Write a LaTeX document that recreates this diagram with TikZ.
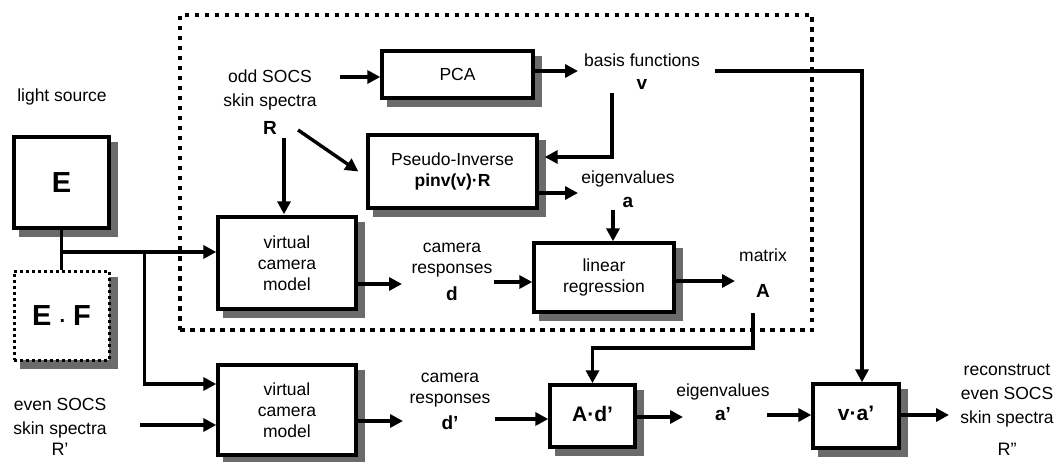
\documentclass[tikz,border=0pt]{standalone}
\usepackage{fontspec}
\setmainfont{Liberation Sans}
\usetikzlibrary{arrows.meta,calc,backgrounds}

\begin{document}
\begin{tikzpicture}[x=1pt,y=-1pt,
  font=\fontsize{17.5}{24}\selectfont,
  box/.style={draw, line width=3.4pt, fill=white, inner sep=0pt, align=center,
    font=\fontsize{17.5}{21}\selectfont},
  bigbox/.style={box, font=\fontsize{21}{24}\selectfont\bfseries},
  boxshadow/.style={fill=black!58},
  lbl/.style={align=center, inner sep=0pt},
  tightlbl/.style={lbl, font=\fontsize{17.5}{21}\selectfont},
  sym/.style={inner sep=0pt, font=\fontsize{19}{22}\selectfont\bfseries},
  plainsym/.style={inner sep=0pt, font=\fontsize{18}{22}\selectfont},
  arr/.style={line width=3.4pt, -{Triangle[length=13pt,width=13pt]}},
  wire/.style={line width=3.4pt},
  frame/.style={draw, line width=4.5pt, dash pattern=on 4.5pt off 5.5pt, inner sep=0pt},
]
\useasboundingbox (0,0) rectangle (1062,462);

% training block
\node[frame, minimum width=632pt, minimum height=315pt] (frame) at (496,172.5) {};

% light sources
\node[lbl] (light) at (62,97) {light source};
\node[box, minimum width=95pt, minimum height=91pt, font=\fontsize{29}{30}\selectfont\bfseries] (E) at (61.5,182.5) {E};
\node[box, minimum width=95pt, minimum height=89pt, line width=3pt, dash pattern=on 3pt off 3pt,
      font=\fontsize{29}{30}\selectfont\bfseries] (EF) at (61.5,315.5) {E \raisebox{3pt}{\fontsize{20}{20}\selectfont.} F};

% odd spectra and PCA
\node[lbl] (odd) at (270,89.5) {odd SOCS\\skin spectra};
\node[sym] (R) at (270,128) {R};
\node[box, minimum width=151pt, minimum height=47pt] (PCA) at (457.5,74.5) {PCA};
\node[lbl] (basis) at (642,60) {basis functions};
\node[sym] (v) at (642,84) {v};
\node[box, minimum width=169pt, minimum height=73pt] (PI) at (452.5,171.5) {Pseudo-Inverse\\\textbf{pinv(v)·R}};
\node[lbl] (eig) at (628,179) {eigenvalues};
\node[sym] (a) at (628,202) {a};

% camera model and regression
\node[box, minimum width=138pt, minimum height=92pt] (vcm1) at (287,263) {virtual\\camera\\model};
\node[tightlbl] (cam1) at (452,260) {camera\\responses};
\node[sym] (d) at (452,294) {d};
\node[box, minimum width=140pt, minimum height=69pt] (LR) at (604,277.5) {linear\\regression};
\node[lbl] (mat) at (763,255) {matrix};
\node[sym] (A) at (763,291) {A};

% reconstruction chain
\node[lbl] (even) at (60,418) {even SOCS\\skin spectra};
\node[plainsym] (R1) at (60,449) {R’};
\node[box, minimum width=138pt, minimum height=90pt] (vcm2) at (287,410) {virtual\\camera\\model};
\node[tightlbl] (cam2) at (450,390.5) {camera\\responses};
\node[sym] (d1) at (450,423) {d’};
\node[bigbox, minimum width=85pt, minimum height=62pt] (Ad) at (592.5,416) {\raisebox{5pt}{A·d’}};
\node[lbl] (eig2) at (723,392) {eigenvalues};
\node[sym] (a1) at (723,414) {a’};
\node[bigbox, minimum width=86pt, minimum height=64pt] (va) at (856,416) {\raisebox{5pt}{v·a’}};
\node[lbl] (rec) at (1007,396) {reconstruct\\even SOCS\\skin spectra};
\node[plainsym] (R2) at (1007,449) {R”};

% box shadows, offset down and right behind each box
\begin{scope}[on background layer]
  \foreach \b in {E,EF,PCA,PI,vcm1,LR,vcm2,Ad,va}
    \fill[boxshadow] ($(\b.north west)+(7,7)$) rectangle ($(\b.south east)+(7,7)$);
\end{scope}

% free ends of connectors
\coordinate (oddout) at (340,77);
\coordinate (basisin) at (578,71);
\coordinate (vout) at (612,93);
\coordinate (eigin) at (578,193);
\coordinate (aout) at (613,210);
\coordinate (J1) at ($(E.south)!0.56!(EF.north)$);
\coordinate (J2) at ($(J1)+(83,0)$);
\coordinate (cam1in) at (402,284);
\coordinate (dout) at (494,282);
\coordinate (matin) at (735,281);
\coordinate (Aout) at (753,313);
\coordinate (evout) at (140,425);
\coordinate (cam2in) at (403,421);
\coordinate (d1out) at (495,419);
\coordinate (eig2in) at (683,417);
\coordinate (a1out) at (767,415);
\coordinate (recin) at (949,415);
\coordinate (vlong) at (715,71);

% connectors
\draw[arr] (oddout) -- (oddout -| PCA.west);
\draw[arr] (PCA.east |- basisin) -- (basisin);
\draw[arr] (vout) |- ($(PI.east)+(6,-14.5)$);
\draw[arr] (PI.east |- eigin) -- (eigin);
\draw[arr] (aout) -- (aout |- LR.north);
\draw[arr] ($(R.east)+(21,2)$) -- ($(PI.west)+(-8,0)$);
\draw[arr] (vcm1.north |- R.south) ++(-3,3) -- ($(vcm1.north)+(-3,-1)$);
\draw[wire] (E.south) -- (EF.north);
\draw[arr] (J1) -- (J1 -| vcm1.west);
\draw[arr] (J2) |- ($(vcm2.west)+(0,-26)$);
\draw[arr] (vcm1.east |- cam1in) -- (cam1in);
\draw[arr] (dout) -- (dout -| LR.west);
\draw[arr] (LR.east |- matin) -- (matin);
\draw[arr] (Aout) -- ++(0,35) -| (Ad.north);
\draw[arr] (evout) -- (evout -| vcm2.west);
\draw[arr] (vcm2.east |- cam2in) -- (cam2in);
\draw[arr] (d1out) -- (d1out -| Ad.west);
\draw[arr] (Ad.east |- eig2in) -- (eig2in);
\draw[arr] (a1out) -- (a1out -| va.west);
\draw[arr] (va.east |- recin) -- (recin);
\draw[arr] (vlong) -| ($(va.north)+(6,0)$);
\end{tikzpicture}
\end{document}
